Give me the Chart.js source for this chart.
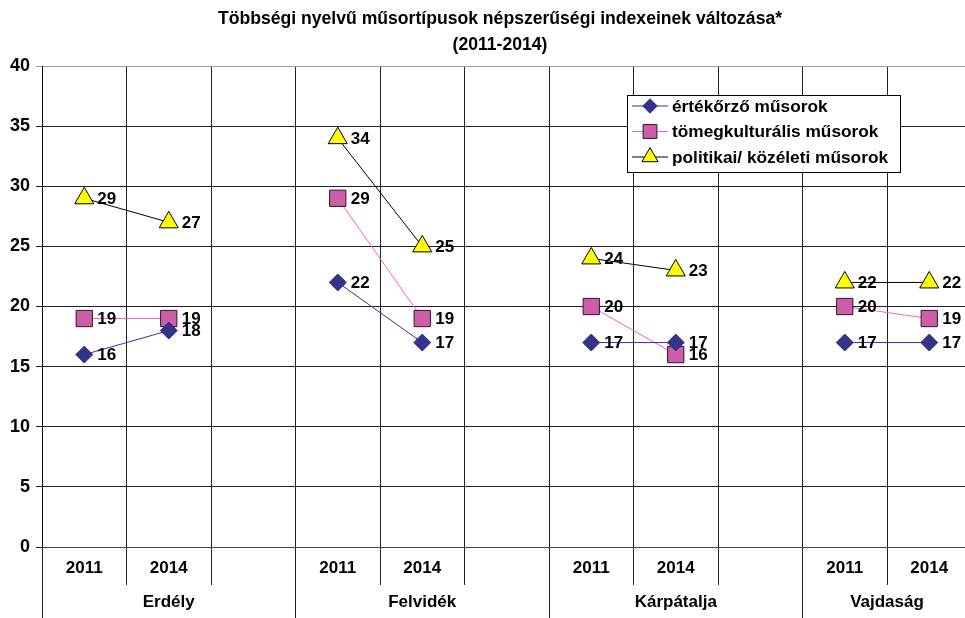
<!DOCTYPE html>
<html>
<head>
<meta charset="utf-8">
<script src="https://cdn.jsdelivr.net/npm/chart.js@4"></script>
<style>
  html, body { margin: 0; padding: 0; overflow: hidden; background: #fff; }
  #wrap { width: 984px; height: 618px; position: relative; }
</style>
</head>
<body>
<div id="wrap"><canvas id="myChart"></canvas></div>
<script>
// adatok
var years = ['2011', '2014', '', '2011', '2014', '', '2011', '2014', '', '2011', '2014'];
var regions = ['Erdély', 'Felvidék', 'Kárpátalja', 'Vajdaság'];
var regionSpans = [[0, 3], [3, 6], [6, 9], [9, 11]];

var ertekorzo = [16, 18, null, 22, 17, null, 17, 17, null, 17, 17];
var tomegkult = [19, 19, null, 29, 19, null, 20, 16, null, 20, 19];
var politikai = [29, 27, null, 34, 25, null, 24, 23, null, 22, 22];

var titleLines = ['Többségi nyelvű műsortípusok népszerűségi indexeinek változása*', '(2011-2014)'];
var FONT = 'Arial, "Liberation Sans", sans-serif';

// cim, csoportfeliratok, ertekcimkek, jelmagyarazat
var extras = {
  id: 'extras',
  afterDraw: function (chart) {
    var c = chart.ctx;
    var x = chart.scales.x;
    var area = chart.chartArea;
    c.save();

    // cim
    c.fillStyle = '#000';
    c.font = 'bold 17.6px ' + FONT;
    c.textAlign = 'center';
    c.textBaseline = 'middle';
    c.fillText(titleLines[0], 500, 19);
    c.fillText(titleLines[1], 500, 45);

    // regio feliratok es elvalaszto vonalak
    var step = x.getPixelForValue(1) - x.getPixelForValue(0);
    c.strokeStyle = '#222';
    c.lineWidth = 1;
    regionSpans.forEach(function (s, i) {
      var left = x.getPixelForValue(s[0]) - step / 2;
      var right = x.getPixelForValue(s[1] - 1) + step / 2;
      var lx = Chart.helpers._alignPixel(chart, left, 1);
      c.beginPath();
      c.moveTo(lx, area.bottom + 38);
      c.lineTo(lx, chart.height);
      c.stroke();
      c.font = 'bold 17px ' + FONT;
      c.fillText(regions[i], (left + right) / 2, 602);
    });

    // ertekcimkek
    c.font = 'bold 17px ' + FONT;
    c.textAlign = 'left';
    chart.data.datasets.forEach(function (ds, di) {
      var meta = chart.getDatasetMeta(di);
      meta.data.forEach(function (pt, j) {
        var v = ds.data[j];
        if (v === null) return;
        c.fillText(String(v), pt.x + 13, pt.y + 1);
      });
    });

    // jelmagyarazat
    var bx = 627, by = 95, bw = 273, bh = 77;
    c.fillStyle = '#fff';
    c.fillRect(bx, by, bw, bh);
    c.strokeStyle = '#000';
    c.strokeRect(bx + 0.5, by + 0.5, bw, bh);
    chart.data.datasets.forEach(function (ds, di) {
      var yy = 106 + di * 25.5;
      c.strokeStyle = ds.borderColor;
      c.lineWidth = 1;
      c.beginPath();
      c.moveTo(632, yy);
      c.lineTo(668, yy);
      c.stroke();
      c.fillStyle = ds.pointBackgroundColor;
      c.strokeStyle = ds.pointBorderColor;
      Chart.helpers.drawPoint(c, {
        pointStyle: ds.pointStyle,
        radius: ds.pointRadius * 0.85,
        borderWidth: 1
      }, 650, yy);
      c.fillStyle = '#000';
      c.font = 'bold 17.3px ' + FONT;
      c.fillText(ds.label, 672, yy + 1);
    });
    c.restore();
  }
};

var ctx = document.getElementById('myChart').getContext('2d');
var chart = new Chart(ctx, {
  type: 'line',
  data: {
    labels: years,
    datasets: [{
      label: 'értékőrző műsorok',
      data: ertekorzo,
      borderColor: '#333399',
      borderWidth: 1,
      pointStyle: 'rectRot',
      pointRadius: 8.5,
      pointBackgroundColor: '#333388',
      pointBorderColor: '#333388',
      pointBorderWidth: 1
    }, {
      label: 'tömegkulturális műsorok',
      data: tomegkult,
      borderColor: '#ee66bb',
      borderWidth: 1,
      pointStyle: 'rect',
      pointRadius: 11.5,
      pointBackgroundColor: '#cc5fa8',
      pointBorderColor: '#331133',
      pointBorderWidth: 1
    }, {
      label: 'politikai/ közéleti műsorok',
      data: politikai,
      borderColor: '#000000',
      borderWidth: 1,
      pointStyle: 'triangle',
      pointRadius: 11,
      pointBackgroundColor: '#ffff00',
      pointBorderColor: '#000000',
      pointBorderWidth: 1
    }]
  },
  options: {
    responsive: true,
    maintainAspectRatio: false,
    animation: false,
    spanGaps: false,
    layout: { padding: { top: 66, left: 0, right: 0, bottom: 0 } },
    plugins: {
      legend: { display: false },
      title: { display: false },
      tooltip: { enabled: false }
    },
    scales: {
      x: {
        type: 'category',
        offset: true,
        afterFit: function (s) { s.height = 71; },
        grid: {
          offset: true,
          color: '#222',
          lineWidth: 1,
          tickLength: 38,
          drawTicks: true
        },
        border: { color: '#444', width: 1 },
        ticks: {
          color: '#000',
          font: { family: FONT, size: 17, weight: 'bold' },
          padding: -27,
          maxRotation: 0,
          autoSkip: false
        }
      },
      y: {
        min: 0,
        max: 40,
        afterFit: function (s) { s.width = 42; },
        grid: {
          color: function (c) { return c.tick && c.tick.value === 40 ? '#999' : '#222'; },
          lineWidth: 1,
          tickLength: 6
        },
        border: { color: '#000', width: 1 },
        ticks: {
          stepSize: 5,
          color: '#000',
          padding: 6,
          font: { family: FONT, size: 18, weight: 'bold' }
        }
      }
    }
  },
  plugins: [extras]
});
</script>
</body>
</html>
